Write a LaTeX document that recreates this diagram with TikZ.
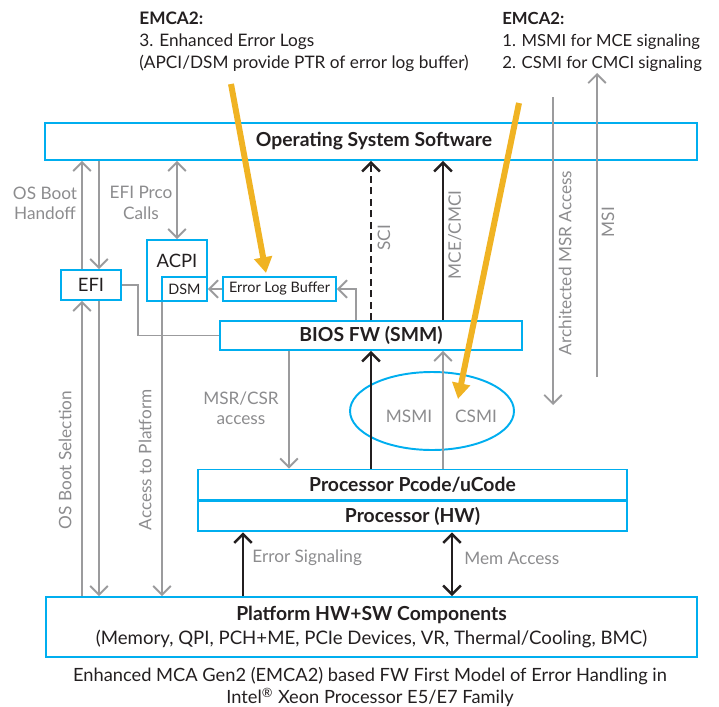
\documentclass[tikz,border=0pt]{standalone}
\usepackage{fontspec}
\setmainfont{Lato}
\usepackage{tikz}
\usetikzlibrary{arrows.meta,shapes.geometric,positioning}

\definecolor{ipblue}{RGB}{0,174,239}
\definecolor{linegray}{RGB}{155,155,157}
\definecolor{txtgray}{RGB}{140,140,142}
\definecolor{txtblack}{RGB}{35,31,32}
\definecolor{emcayellow}{RGB}{240,179,35}

\begin{document}
\begin{tikzpicture}[
    x=0.02cm, y=-0.02cm,
    box/.style={rectangle, draw=ipblue, line width=1.1pt, inner sep=0pt, text=txtblack},
    bigbox/.style={box, font=\fontsize{11}{13}\selectfont\bfseries},
    smallbox/.style={box, font=\fontsize{8.2}{10}\selectfont, minimum height=0.48cm},
    glabel/.style={text=txtgray, font=\fontsize{9.8}{11.5}\selectfont, inner sep=0pt, align=center},
    note/.style={text=txtblack, font=\fontsize{9.8}{12.5}\selectfont, inner sep=0pt, align=left, anchor=north west},
    gline/.style={draw=linegray, line width=1.1pt},
    garrow/.style={gline, ->},
    gboth/.style={gline, <->},
    barrow/.style={draw=txtblack, line width=1.4pt, ->},
    yarrow/.style={draw=emcayellow, line width=3.4pt, -{Triangle[length=9pt,width=10pt]}},
    >={Straight Barb[length=5pt,width=10pt]}
]
\useasboundingbox (0,0) rectangle (719,706);

% Annotations
\node[note] (emcaleft) at (139,12) {\textbf{EMCA2:}\\3. Enhanced Error Logs\\(APCI/DSM provide PTR of error log buffer)};
\node[note, font=\fontsize{9.5}{12.5}\selectfont] (emcaright) at (502,12) {\textbf{EMCA2:}\\1. MSMI for MCE signaling\\2. CSMI for CMCI signaling};

% Boxes
\node[bigbox, minimum width=13.04cm, minimum height=0.74cm] (os) at (371,141.5) {\hspace{0.12cm}Operating System Software};
\node[box, font=\fontsize{10.5}{12}\selectfont, minimum width=1.2cm, minimum height=0.6cm] (efi) at (91,285) {EFI};
\node[box, minimum width=1.2cm, minimum height=1.22cm,
      label={[anchor=north, yshift=-0.18cm, font=\fontsize{10.5}{12}\selectfont, text=txtblack]north:ACPI}] (acpi) at (177,270.5) {};
\node[smallbox, minimum width=0.9cm] (dsm) at (184.5,289) {DSM};
\node[smallbox, minimum width=2.26cm] (elb) at (279.5,289) {Error Log Buffer};
\node[bigbox, minimum width=6.04cm, minimum height=0.58cm] (bios) at (371,335.5) {BIOS FW (SMM)};
\node[ellipse, draw=ipblue, line width=1.1pt, minimum width=3.28cm, minimum height=1.56cm] (smi) at (432,411) {};
\node[bigbox, minimum width=8.58cm, minimum height=0.6cm] (pcode) at (412.5,484.5) {Processor Pcode/uCode};
\node[bigbox, minimum width=8.58cm, minimum height=0.6cm, below=0pt of pcode] (proc) {Processor (HW)};
\node[bigbox, minimum width=13.02cm, minimum height=1.2cm, align=center] (plat) at (371.5,627)
    {Platform HW+SW Components\\[1pt]{\mdseries\fontsize{10.6}{13}\selectfont (Memory, QPI, PCH+ME, PCIe Devices, VR, Thermal/Cooling, BMC)}};

% Caption
\node[text=txtblack, font=\fontsize{10.4}{12.5}\selectfont, align=center] (caption) at (370,687)
    {Enhanced MCA Gen2 (EMCA2) based FW First Model of Error Handling in\\Intel\textsuperscript{\textregistered} Xeon Processor E5/E7 Family};

% Columns
\coordinate (xhoff) at (82,0);
\coordinate (xhsel) at (99,0);
\coordinate (xplat) at (162,0);
\coordinate (xefic) at (177,0);
\coordinate (xerr) at (243,0);
\coordinate (xmsr) at (289,0);
\coordinate (xelb) at (356,0);
\coordinate (xsci) at (371,0);
\coordinate (xmce) at (443,0);
\coordinate (xmem) at (452,0);
\coordinate (archtop) at (553,97);
\coordinate (archbot) at (553,405);
\coordinate (msibot) at (597,377);
\coordinate (msitop) at (597,73);

% EFI / ACPI connections
\draw[garrow] (efi.north -| xhoff) -- (os.south -| xhoff);
\draw[garrow] (os.south -| xhsel) -- (efi.north -| xhsel);
\draw[gboth] (os.south -| xefic) -- (acpi.north -| xefic);
\draw[garrow] (plat.north -| xhoff) -- (efi.south -| xhoff);
\draw[garrow] (efi.south -| xhsel) -- (plat.north -| xhsel);
\draw[garrow] (dsm.south -| xplat) -- (plat.north -| xplat);
\draw[garrow] (elb.west) -- (dsm.east);
\draw[garrow] (bios.north -| xelb) |- (elb.east);
\draw[gline] (efi.east) -- ++(16,0) |- (bios.west);

\node[glabel] (hofflbl) at (45,203) {OS Boot\\Handoff};
\node[glabel] (eficlbl) at (141,203) {EFI Prco\\Calls};
\node[glabel, rotate=90] (hsellbl) at (65,460) {OS Boot Selection};
\node[glabel, rotate=90] (platlbl) at (145,460) {Access to Platform};

% BIOS up to OS
\draw[barrow, dashed, dash pattern=on 4pt off 2.5pt] (bios.north -| xsci) -- (os.south -| xsci);
\draw[barrow] (bios.north -| xmce) -- (os.south -| xmce);
\node[glabel, rotate=90] (scilbl) at (384,238) {SCI};
\node[glabel, rotate=90] (mcelbl) at (455,235) {MCE/CMCI};

% Processor up to BIOS
\draw[garrow] (bios.south -| xmsr) -- (pcode.north -| xmsr);
\draw[barrow] (pcode.north -| xsci) -- (bios.south -| xsci);
\draw[garrow] (pcode.north -| xmce) -- (bios.south -| xmce);
\node[glabel] (msrlbl) at (241,408) {MSR/CSR\\access};
\node[glabel] (msmilbl) at (409,416) {MSMI};
\node[glabel] (csmilbl) at (476,416) {CSMI};

% Architected access and MSI
\draw[garrow] (archtop) -- (archbot);
\draw[garrow] (msibot) -- (msitop);
\node[glabel, rotate=90] (archlbl) at (565,263) {Architected MSR Access};
\node[glabel, rotate=90] (msilbl) at (608,222) {MSI};

% Platform to processor
\draw[barrow] (plat.north -| xerr) -- (proc.south -| xerr);
\draw[barrow, <->] (proc.south -| xmem) -- (plat.north -| xmem);
\node[glabel, anchor=west] (errlbl) at (252,558) {Error Signaling};
\node[glabel, anchor=west] (memlbl) at (464,558) {Mem Access};

% EMCA2 pointers
\coordinate (ylogstart) at (231,84);
\coordinate (ylogend) at (266,273);
\coordinate (ysmistart) at (519,103);
\coordinate (ysmiend) at (458,399);
\draw[yarrow] (ylogstart) -- (ylogend);
\draw[yarrow] (ysmistart) -- (ysmiend);

\end{tikzpicture}
\end{document}
